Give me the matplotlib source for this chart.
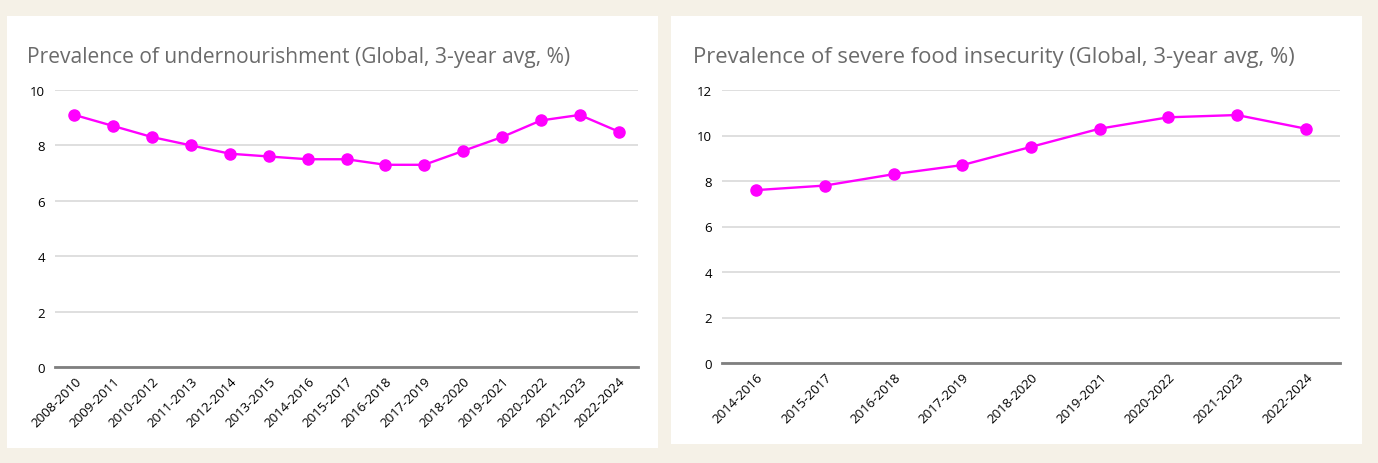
import matplotlib.pyplot as plt
from matplotlib.patches import Rectangle

# data
periods_pou = ['2008-2010', '2009-2011', '2010-2012', '2011-2013', '2012-2014',
               '2013-2015', '2014-2016', '2015-2017', '2016-2018', '2017-2019',
               '2018-2020', '2019-2021', '2020-2022', '2021-2023', '2022-2024']
pou = [9.1, 8.7, 8.3, 8.0, 7.7, 7.6, 7.5, 7.5, 7.3, 7.3, 7.8, 8.3, 8.9, 9.1, 8.5]

periods_fi = ['2014-2016', '2015-2017', '2016-2018', '2017-2019', '2018-2020',
              '2019-2021', '2020-2022', '2021-2023', '2022-2024']
severe_fi = [7.6, 7.8, 8.3, 8.7, 9.5, 10.3, 10.8, 10.9, 10.3]

titles = ['Prevalence of undernourishment (Global, 3-year avg, %)',
          'Prevalence of severe food insecurity (Global, 3-year avg, %)']

W, H = 1378, 464
fig = plt.figure(figsize=(W / 100, H / 100), dpi=100)
fig.patch.set_facecolor('#f5f1e7')

# white cards behind each chart (pixel boxes: x0, y0, x1, y1 from top-left)
cards = [(7, 17, 658, 449), (671, 17, 1362, 445)]
for x0, y0, x1, y1 in cards:
    fig.patches.append(Rectangle((x0 / W, 1 - y1 / H), (x1 - x0) / W, (y1 - y0) / H,
                                 transform=fig.transFigure, facecolor='white',
                                 edgecolor='none', zorder=-1))

axes_px = [(55, 91, 638, 368), (722, 91, 1340, 364)]
title_px = [(27, 63, 15.1), (693, 63, 15.8)]
series = [(periods_pou, pou, 10, 2), (periods_fi, severe_fi, 12, 2)]

for (x0, y0, x1, y1), (tx, ty, tsize), (cats, vals, ymax, step), title in zip(axes_px, title_px, series, titles):
    ax = fig.add_axes([x0 / W, 1 - y1 / H, (x1 - x0) / W, (y1 - y0) / H], zorder=2)
    ax.set_facecolor('none')
    xs = range(len(cats))
    ax.plot(xs, vals, color='#ff00ff', lw=1.7, marker='o', ms=8, zorder=3,
            clip_on=False)
    ax.set_xlim(-0.5, len(cats) - 0.5)
    ax.set_ylim(0, ymax)
    ax.set_yticks(range(0, ymax + 1, step))
    ax.set_xticks(list(xs))
    ax.set_xticklabels(cats, rotation=45, ha='right', rotation_mode='anchor',
                       fontsize=9.5, family='Open Sans')
    for lab in ax.get_yticklabels():
        lab.set_fontsize(9.5)
        lab.set_family('Open Sans')
    ax.tick_params(axis='both', length=0, pad=7, colors='black')
    ax.tick_params(axis='x', pad=5)
    ax.grid(axis='y', color='#d9d9d9', lw=1.2)
    ax.set_axisbelow(True)
    for side in ['top', 'right', 'left']:
        ax.spines[side].set_visible(False)
    ax.spines['bottom'].set_color('#7f7f7f')
    ax.spines['bottom'].set_linewidth(2)
    fig.text(tx / W, 1 - ty / H, title, fontsize=tsize, color='#6b6b6b',
             family='Open Sans', va='baseline', zorder=3)

fig.savefig('out.png', dpi=100, facecolor=fig.get_facecolor())
